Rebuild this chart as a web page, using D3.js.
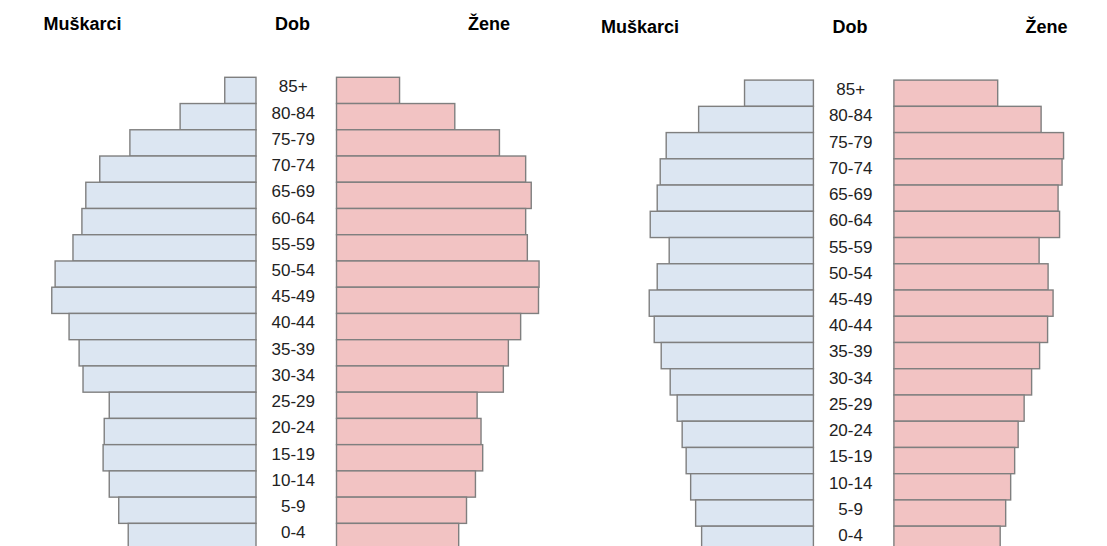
<!DOCTYPE html>
<html>
<head>
<meta charset="utf-8">
<title>Dobna piramida</title>
<script src="https://d3js.org/d3.v7.min.js"></script>
<style>
body { margin: 0; background: #fff; }
text { font-family: "Liberation Sans", Arial, sans-serif; }
.head { font-weight: bold; font-size: 18px; fill: #000; }
.age { font-size: 17px; fill: #222; }
</style>
</head>
<body>
<div class="chart"></div>
<script>
// age groups, top to bottom
var ages = ["85+", "80-84", "75-79", "70-74", "65-69", "60-64", "55-59", "50-54", "45-49",
            "40-44", "35-39", "30-34", "25-29", "20-24", "15-19", "10-14", "5-9", "0-4"];

// share of population (%), first pyramid
var maleA   = [0.56, 1.36, 2.26, 2.80, 3.05, 3.12, 3.28, 3.60, 3.66, 3.35, 3.17, 3.10, 2.63, 2.72, 2.74, 2.63, 2.46, 2.29];
var femaleA = [1.13, 2.12, 2.92, 3.39, 3.49, 3.39, 3.42, 3.63, 3.62, 3.30, 3.08, 2.99, 2.52, 2.59, 2.62, 2.49, 2.33, 2.19];

// second pyramid
var maleB   = [1.38, 2.30, 2.95, 3.07, 3.13, 3.27, 2.89, 3.13, 3.29, 3.19, 3.05, 2.87, 2.73, 2.63, 2.55, 2.46, 2.36, 2.24];
var femaleB = [2.08, 2.95, 3.40, 3.37, 3.29, 3.32, 2.91, 3.09, 3.19, 3.08, 2.92, 2.76, 2.61, 2.49, 2.42, 2.34, 2.24, 2.13];

var headers = ["Muškarci", "Dob", "Žene"];

var svg = d3.select(".chart")
    .append("svg")
    .attr("width", 1107)
    .attr("height", 546);

function pyramid(ox, oy, male, female, pxMax) {
    var g = svg.append("g").attr("transform", "translate(" + ox + "," + oy + ")");

    var mid = 256, gap = 80.5;   // male bars end at mid, female start at mid+gap
    var x = d3.scaleLinear().domain([0, 4]).range([0, pxMax]);
    var y = d3.scaleBand().domain(ages).range([77.3, 77.3 + 26.24 * ages.length]).padding(0);

    // headers
    g.append("text").attr("class", "head").attr("x", 43.5).attr("y", 30).text(headers[0]);
    g.append("text").attr("class", "head").attr("x", 292.5).attr("y", 30)
        .attr("text-anchor", "middle").text(headers[1]);
    g.append("text").attr("class", "head").attr("x", 510).attr("y", 30)
        .attr("text-anchor", "end").text(headers[2]);

    g.selectAll(".m").data(male).enter().append("rect")
        .attr("class", "m")
        .attr("x", function(d) { return mid - x(d); })
        .attr("y", function(d, i) { return y(ages[i]); })
        .attr("width", function(d) { return x(d); })
        .attr("height", y.bandwidth())
        .attr("fill", "#dce6f2")
        .attr("stroke", "#7f7f7f")
        .attr("stroke-width", 1.4);

    g.selectAll(".f").data(female).enter().append("rect")
        .attr("class", "f")
        .attr("x", mid + gap)
        .attr("y", function(d, i) { return y(ages[i]); })
        .attr("width", function(d) { return x(d); })
        .attr("height", y.bandwidth())
        .attr("fill", "#f2c3c3")
        .attr("stroke", "#7f7f7f")
        .attr("stroke-width", 1.4);

    g.selectAll(".age").data(ages).enter().append("text")
        .attr("class", "age")
        .attr("x", mid + gap / 2 - 3)
        .attr("y", function(d) { return y(d) + 15; })
        .attr("text-anchor", "middle")
        .text(function(d) { return d; });
}

pyramid(0, 0, maleA, femaleA, 223.2);
pyramid(557.4, 2.8, maleB, femaleB, 199.6);
</script>
</body>
</html>
